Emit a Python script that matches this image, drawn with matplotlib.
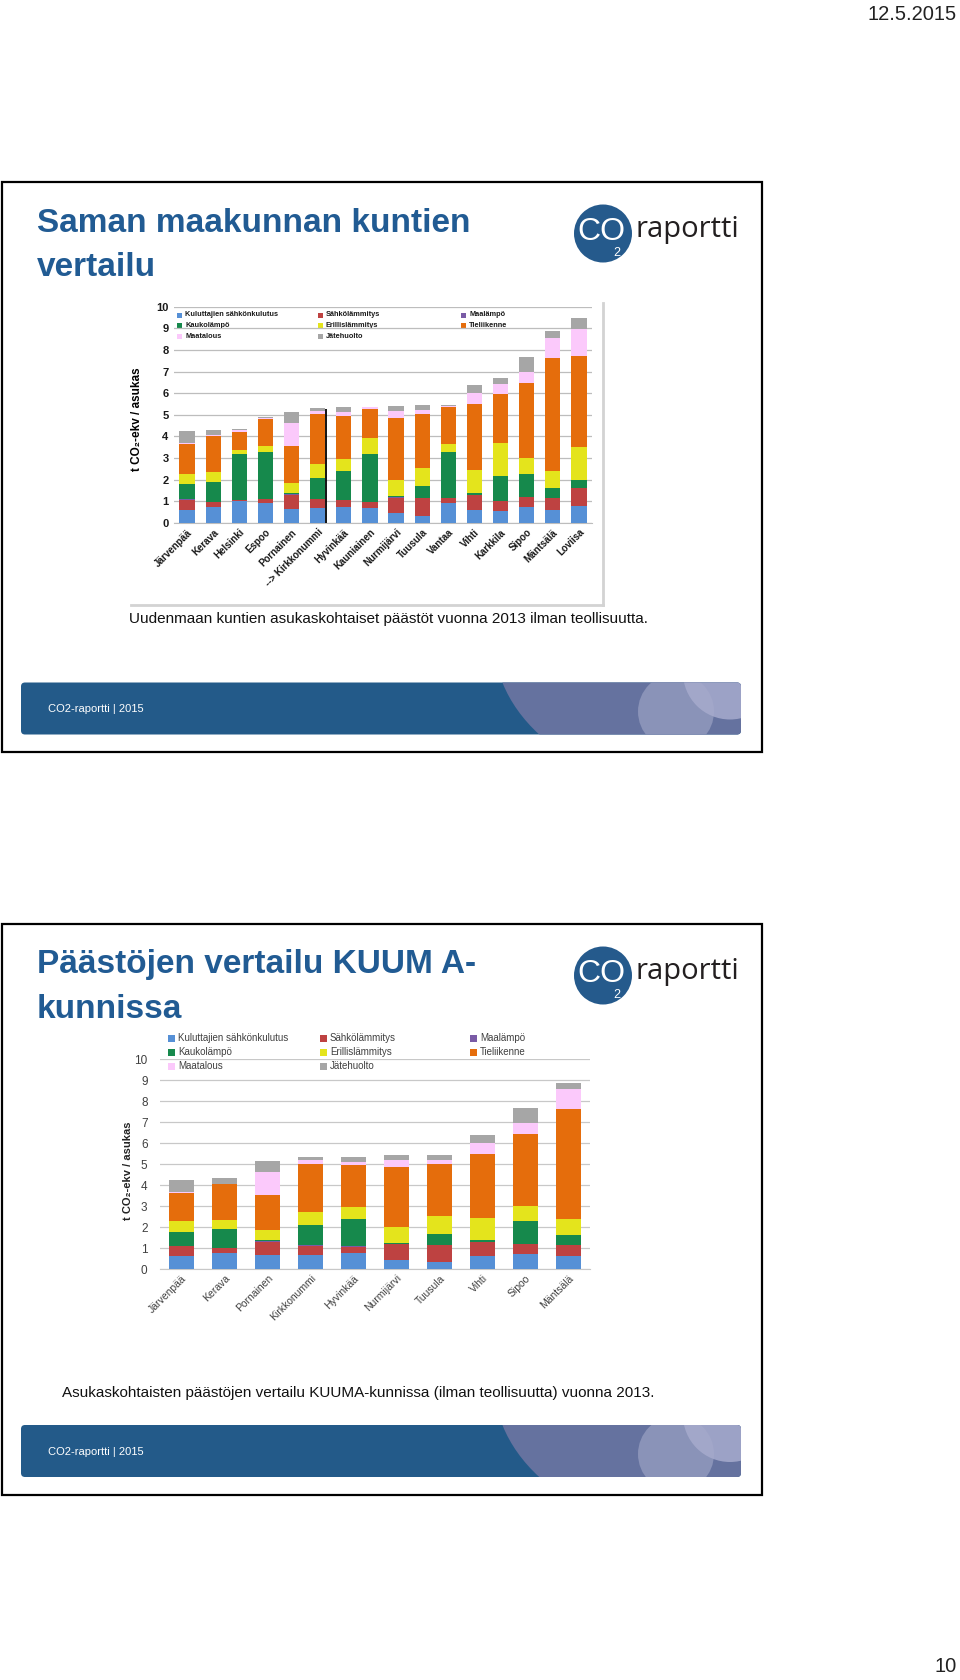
import matplotlib
matplotlib.use("Agg")
import matplotlib.pyplot as plt
from matplotlib.patches import Rectangle, Circle, Ellipse, FancyBboxPatch
import numpy as np

plt.rcParams['font.family'] = ['Liberation Sans', 'DejaVu Sans']

# kunnat (Uusimaa) ja KUUMA-kunnat
municipalities = ["Järvenpää", "Kerava", "Helsinki", "Espoo", "Pornainen", "Kirkkonummi",
                  "Hyvinkää", "Kauniainen", "Nurmijärvi", "Tuusula", "Vantaa", "Vihti",
                  "Karkkila", "Sipoo", "Mäntsälä", "Loviisa"]
labels_uusimaa = [("--> " + m if m == "Kirkkonummi" else m) for m in municipalities]
kuuma = ["Järvenpää", "Kerava", "Pornainen", "Kirkkonummi", "Hyvinkää", "Nurmijärvi",
         "Tuusula", "Vihti", "Sipoo", "Mäntsälä"]

categories = ["Kuluttajien sähkönkulutus", "Sähkölämmitys", "Maalämpö",
              "Kaukolämpö", "Erillislämmitys", "Tieliikenne",
              "Maatalous", "Jätehuolto"]
colors = ["#5690d6", "#be4241", "#7a5ba6", "#16894c", "#e4e41c", "#e56d0c", "#fbc9fb", "#a6a6a6"]

# t CO2-ekv / asukas
sahkonkulutus = [0.61, 0.76, 1.00, 0.92, 0.67, 0.68, 0.76, 0.69, 0.45, 0.33, 0.92, 0.62, 0.54, 0.73, 0.60, 0.77]
sahkolammitys = [0.47, 0.22, 0.07, 0.18, 0.64, 0.44, 0.31, 0.26, 0.72, 0.82, 0.22, 0.67, 0.46, 0.47, 0.55, 0.83]
maalampo      = [0.02, 0.01, 0.01, 0.01, 0.01, 0.01, 0.01, 0.01, 0.01, 0.01, 0.01, 0.01, 0.01, 0.01, 0.01, 0.01]
kaukolampo    = [0.68, 0.92, 2.12, 2.15, 0.05, 0.97, 1.32, 2.24, 0.06, 0.53, 2.12, 0.07, 1.14, 1.06, 0.45, 0.36]
erillis       = [0.50, 0.45, 0.18, 0.28, 0.48, 0.62, 0.56, 0.75, 0.76, 0.86, 0.37, 1.07, 1.54, 0.75, 0.78, 1.54]
tieliikenne   = [1.35, 1.67, 0.85, 1.26, 1.70, 2.31, 1.99, 1.34, 2.87, 2.48, 1.73, 3.05, 2.26, 3.44, 5.22, 4.21]
maatalous     = [0.05, 0.03, 0.05, 0.05, 1.08, 0.16, 0.16, 0.05, 0.32, 0.19, 0.05, 0.53, 0.48, 0.50, 0.96, 1.23]
jatehuolto    = [0.57, 0.26, 0.06, 0.03, 0.50, 0.13, 0.24, 0.04, 0.24, 0.23, 0.05, 0.37, 0.26, 0.71, 0.32, 0.51]
series = [sahkonkulutus, sahkolammitys, maalampo, kaukolampo, erillis, tieliikenne, maatalous, jatehuolto]

BLUE = "#215b93"
W, H = 960, 1680

fig = plt.figure(figsize=(9.6, 16.8), dpi=100)
bg = fig.add_axes([0, 0, 1, 1])
bg.set_xlim(0, W)
bg.set_ylim(H, 0)
bg.axis('off')


def px_axes(x0, x1, ytop, ybot):
    return fig.add_axes([x0 / W, 1 - ybot / H, (x1 - x0) / W, (ybot - ytop) / H])


def slide_frame(y0, y1):
    bg.add_patch(Rectangle((2, y0), 760, y1 - y0, fill=False, ec='black', lw=1.6))


def logo(cy):
    bg.add_patch(Circle((603, cy), 29, fc="#255a8c", ec='none'))
    bg.text(601, cy - 1, "CO", color='white', fontsize=23, ha='center', va='center')
    bg.text(617, cy + 20, "2", color='white', fontsize=9, ha='center', va='center')
    bg.text(636, cy - 4, "raportti", color='#231f20', fontsize=21, ha='left', va='center',
            family=['Open Sans', 'DejaVu Sans'])


def footer(y0):
    band = FancyBboxPatch((21, y0), 720, 52, boxstyle="round,pad=0,rounding_size=4",
                          fc="#235a89", ec='none')
    bg.add_patch(band)
    shapes = [Ellipse((694, y0 - 43), 400, 300, fc="#65729f", ec='none'),
              Circle((676, y0 + 29), 38, fc="#8a93b8", ec='none'),
              Circle((730, y0 - 10), 47, fc="#a7abcd", ec='none', alpha=0.85)]
    for s in shapes:
        s.set_clip_path(band)
        bg.add_patch(s)
    bg.text(48, y0 + 27, "CO2-raportti | 2015", color='white', fontsize=8, va='center')


def legend(cols_x, rows_y, size, fs, weight, pad, tcolor):
    for i, (name, col) in enumerate(zip(categories, colors)):
        x = cols_x[i % 3]
        y = rows_y[i // 3]
        bg.add_patch(Rectangle((x - size / 2, y - size / 2), size, size, fc=col, ec='none'))
        bg.text(x + pad, y, name, fontsize=fs, weight=weight, va='center', color=tcolor)


def stacked(ax, names, labels, width, fs, weight, tcolor, grid_color):
    idx = [municipalities.index(n) for n in names]
    x = np.arange(len(names))
    bottom = np.zeros(len(names))
    for vals, col in zip(series, colors):
        v = np.array(vals)[idx]
        ax.bar(x, v, width, bottom=bottom, color=col, zorder=3)
        bottom += v
    ax.set_xlim(-0.5, len(names) - 0.5)
    ax.set_ylim(0, 10)
    ax.set_yticks(range(11))
    ax.yaxis.grid(True, color=grid_color, lw=0.9, zorder=0)
    ax.set_facecolor('none')
    for s in ['top', 'right', 'left']:
        ax.spines[s].set_visible(False)
    ax.spines['bottom'].set_color(grid_color)
    ax.set_xticks(x)
    ax.set_xticklabels(labels, rotation=45, ha='right', rotation_mode='anchor',
                       fontsize=fs, weight=weight, color=tcolor)
    for t in ax.get_yticklabels():
        t.set_fontsize(fs + 1)
        t.set_weight(weight)
        t.set_color(tcolor)
    ax.tick_params(length=0)
    return x


# ---------- slide 1 ----------
bg.text(957, 14, "12.5.2015", fontsize=14.5, ha='right', va='center', color='#222222')
slide_frame(182, 752)
bg.text(37, 223, "Saman maakunnan kuntien", fontsize=24, weight='bold', color=BLUE, va='center')
bg.text(37, 268, "vertailu", fontsize=24, weight='bold', color=BLUE, va='center')
logo(233.5)

# chart image shadow
bg.plot([603, 603], [303, 605], color='#d3d3d3', lw=2)
bg.plot([131, 603], [605, 605], color='#d3d3d3', lw=2)

ax1 = px_axes(174, 592, 306.7, 523)
x1 = stacked(ax1, municipalities, labels_uusimaa, 0.58, 7, 'bold', '#1a1a1a', '#bdbdbd')
ki = municipalities.index("Kirkkonummi")
ax1.vlines(ki + 0.31, 0, 5.25, color='black', lw=1.3, zorder=4)
ax1.tick_params(axis='y', pad=4)
ax1.tick_params(axis='x', pad=3)
ax1.set_ylabel("t CO₂-ekv / asukas", fontsize=8.5, weight='bold')
ax1.yaxis.set_label_coords(-0.075, 0.48)
legend([179, 320, 463], [315, 325.7, 336.3], 5, 5.3, 'bold', 6, '#1a1a1a')

bg.text(388, 619, "Uudenmaan kuntien asukaskohtaiset päästöt vuonna 2013 ilman teollisuutta.",
        fontsize=11, ha='center', va='center', color='#111111')
footer(682.5)

# ---------- slide 2 ----------
slide_frame(923.5, 1494.5)
bg.text(37, 964, "Päästöjen vertailu KUUM A-", fontsize=24, weight='bold', color=BLUE, va='center')
bg.text(37, 1009, "kunnissa", fontsize=24, weight='bold', color=BLUE, va='center')
logo(975.5)

ax2 = px_axes(160, 590, 1059.3, 1269)
stacked(ax2, kuuma, kuuma, 0.56, 7.5, 'normal', '#404040', '#c8c8c8')
ax2.tick_params(axis='y', pad=9)
ax2.tick_params(axis='x', pad=3)
ax2.set_ylabel("t CO₂-ekv / asukas", fontsize=8, weight='bold', color='#222222')
ax2.yaxis.set_label_coords(-0.063, 0.47)
legend([171, 323, 473], [1038, 1052, 1066], 7, 7, 'normal', 7, '#404040')

bg.text(358.5, 1393, "Asukaskohtaisten päästöjen vertailu KUUMA-kunnissa (ilman teollisuutta) vuonna 2013.",
        fontsize=11, ha='center', va='center', color='#111111')
footer(1425)

bg.text(957, 1666, "10", fontsize=14.5, ha='right', va='center', color='#222222')

fig.savefig("out.png", dpi=100)
